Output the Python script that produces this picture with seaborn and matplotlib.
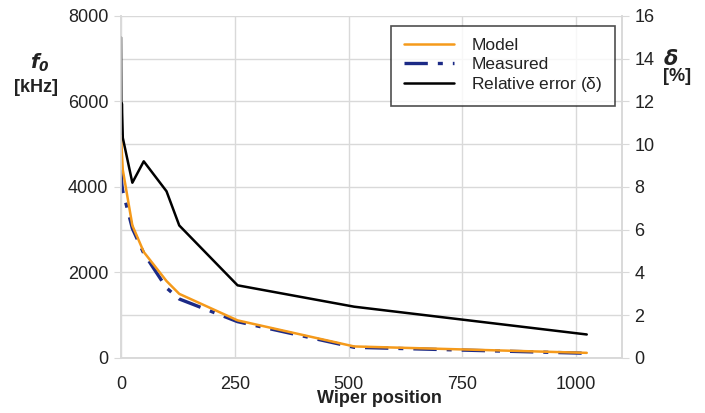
import matplotlib
matplotlib.use('Agg')
import matplotlib.pyplot as plt
import seaborn as sns
import numpy as np
from matplotlib.ticker import MultipleLocator

# data
wiper = [0, 1, 2, 4, 25, 50, 100, 128, 256, 512, 1023]
model_khz = [5250, 5000, 4800, 4400, 3100, 2480, 1800, 1500, 880, 270, 120]
measured_khz = [4400, 4200, 4050, 3900, 3030, 2450, 1640, 1380, 850, 250, 110]
rel_error = [15.0, 10.5, 11.9, 10.3, 8.2, 9.2, 7.8, 6.2, 3.4, 2.4, 1.1]

sns.set_style('white')
plt.rcParams['font.family'] = ['Liberation Sans', 'DejaVu Sans']
plt.rcParams['mathtext.fontset'] = 'dejavusans'

fig = plt.figure(figsize=(7.05, 4.13), dpi=100)
ax = fig.add_axes([0.1716, 0.1332, 0.7104, 0.8281])
ax2 = ax.twinx()

grid_c = '#d9d9d9'
tick_c = '#222222'

sns.lineplot(x=wiper, y=model_khz, ax=ax, color='#f59a1b', lw=1.8,
             label='Model', legend=False, zorder=4)
sns.lineplot(x=wiper, y=measured_khz, ax=ax, color='#1c2a86', lw=2.4,
             dashes=False, label='Measured', legend=False, zorder=3)
ax.lines[-1].set_dashes([7, 3, 1.5, 3])
sns.lineplot(x=wiper, y=rel_error, ax=ax2, color='black', lw=1.8,
             label='Relative error (δ)', legend=False)

ax.set_xlim(0, 1100)
ax.set_ylim(0, 8000)
ax2.set_ylim(0, 16)
ax.yaxis.set_major_locator(MultipleLocator(2000))
ax.yaxis.set_minor_locator(MultipleLocator(1000))
ax2.yaxis.set_major_locator(MultipleLocator(2))
ax.set_xticks([0, 250, 500, 750, 1000])

ax.grid(True, which='both', color=grid_c, lw=1)
ax.set_axisbelow(True)
for a in (ax, ax2):
    for s in a.spines.values():
        s.set_color(grid_c)
        s.set_linewidth(1.2)
    a.spines['top'].set_visible(False)
ax.tick_params(axis='both', which='both', direction='out', length=5,
               color=grid_c, labelsize=13, labelcolor=tick_c, pad=4)
ax.tick_params(axis='x', pad=8)
ax.tick_params(axis='y', which='minor', length=0)
ax2.tick_params(axis='y', direction='out', length=5, color=grid_c,
                labelsize=13, labelcolor=tick_c, pad=4)

ax.set_xlabel('Wiper position', fontsize=13, fontweight='bold', color=tick_c)
ax.xaxis.set_label_coords(0.517, -0.117)
ax.xaxis.label.set_va('center')
ax.set_ylabel('')

fig.text(0.057, 0.847, r'$\mathbfit{f}_{\mathbfit{0}}$', fontsize=14,
         ha='center', va='center', color=tick_c)
fig.text(0.051, 0.787, '[kHz]', fontsize=13, fontweight='bold',
         ha='center', va='center', color=tick_c)
fig.text(0.951, 0.857, r'$\mathbfit{\delta}$', fontsize=15, ha='center',
         va='center', color=tick_c)
fig.text(0.96, 0.814, '[%]', fontsize=13, fontweight='bold',
         ha='center', va='center', color=tick_c)

handles = ax.lines[:2] + ax2.lines[:1]
labels = ['Model', 'Measured', 'Relative error ' + r'$\mathregular{(\delta)}$']
leg = ax2.legend(handles, labels, loc='upper right',
                 bbox_to_anchor=(0.986, 0.971), fontsize=12.5, frameon=True,
                 fancybox=False, edgecolor='#222222', handlelength=2.9,
                 handletextpad=1.0, borderpad=0.7, labelspacing=0.2,
                 borderaxespad=0)
leg.get_frame().set_linewidth(1.2)
for t in leg.get_texts():
    t.set_color(tick_c)

fig.savefig('out.png', dpi=100)
